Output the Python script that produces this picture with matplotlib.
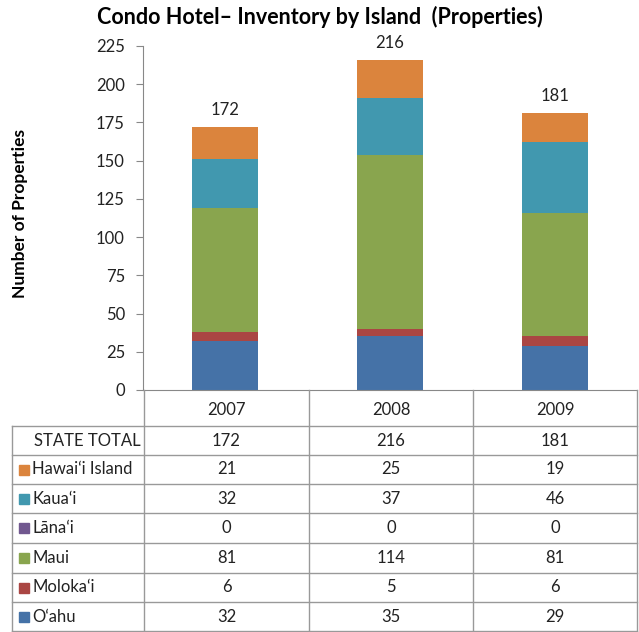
import matplotlib
matplotlib.use("Agg")
import matplotlib.pyplot as plt
import numpy as np

years = ["2007", "2008", "2009"]
islands = ["O\u2018ahu", "Moloka\u2018i", "Maui", "L\u0101na\u2018i", "Kaua\u2018i", "Hawai\u2018i Island"]
oahu = [32, 35, 29]
molokai = [6, 5, 6]
maui = [81, 114, 81]
lanai = [0, 0, 0]
kauai = [32, 37, 46]
hawaii = [21, 25, 19]
totals = [172, 216, 181]
colors = ["#4572A7", "#AA4643", "#89A54E", "#71588F", "#4198AF", "#DB843D"]
series = [oahu, molokai, maui, lanai, kauai, hawaii]

plt.rcParams['font.family'] = ['Lato', 'DejaVu Sans']

W, H = 639, 632
fig = plt.figure(figsize=(W / 100, H / 100), dpi=100)

ax_l, ax_r, ax_t, ax_b = 143, 637, 46, 390
ax = fig.add_axes([ax_l / W, 1 - ax_b / H, (ax_r - ax_l) / W, (ax_b - ax_t) / H])
x = np.arange(len(years))
bottom = np.zeros(len(years))
for vals, c in zip(series, colors):
    ax.bar(x, vals, width=0.4, bottom=bottom, color=c, zorder=2)
    bottom += np.array(vals)
for xi, t in zip(x, totals):
    ax.text(xi, t + 6, str(t), ha='center', va='bottom', fontsize=12, color='#222222')
ax.set_xlim(-0.5, 2.5)
ax.set_ylim(0, 225)
ax.set_yticks(np.arange(0, 226, 25))
ax.set_xticks([])
for s in ['top', 'right']:
    ax.spines[s].set_visible(False)
ax.spines['left'].set_color('#888888')
ax.spines['bottom'].set_color('#888888')
ax.tick_params(axis='y', direction='out', length=5, color='#888888', labelsize=12, labelcolor='#222222', pad=8)

fig.text(20 / W, 1 - 214 / H, "Number of Properties", rotation=90, ha='center', va='center',
         fontsize=12.5, fontweight='bold')
fig.text(320 / W, 1 - 17 / H, "Condo Hotel\u2013 Inventory by Island  (Properties)", ha='center', va='center',
         fontsize=15.5, fontweight='bold')

# table overlay in pixel coords
ov = fig.add_axes([0, 0, 1, 1], facecolor='none')
ov.set_xlim(0, W)
ov.set_ylim(H, 0)
ov.axis('off')
lc = '#999999'
cols = [144, 309, 473, 637]
rows = [426, 455, 484, 513, 543, 573, 602, 631]
for cx in cols:
    ov.plot([cx, cx], [390, 631], color=lc, lw=1)
ov.plot([12, 12], [426, 631], color=lc, lw=1)
for ry in rows:
    ov.plot([12, 637], [ry, ry], color=lc, lw=1)
centers = [(cols[i] + cols[i + 1]) / 2 for i in range(3)]
for cxx, y in zip(centers, years):
    ov.text(cxx, 410, y, ha='center', va='center', fontsize=12, color='#222222')
row_labels = ["STATE TOTAL"] + islands[::-1]
row_vals = [totals] + series[::-1]
row_colors = [None] + colors[::-1]
for i, (lab, vals, c) in enumerate(zip(row_labels, row_vals, row_colors)):
    cy = (rows[i] + rows[i + 1]) / 2
    if c is None:
        ov.text(34, cy, lab, ha='left', va='center', fontsize=12, color='#222222')
    else:
        ov.add_patch(plt.Rectangle((19, cy - 5), 10, 10, color=c))
        ov.text(32, cy, lab, ha='left', va='center', fontsize=12, color='#222222')
    for cxx, v in zip(centers, vals):
        ov.text(cxx, cy, str(v), ha='center', va='center', fontsize=12, color='#222222')

fig.savefig("out.png", dpi=100)
